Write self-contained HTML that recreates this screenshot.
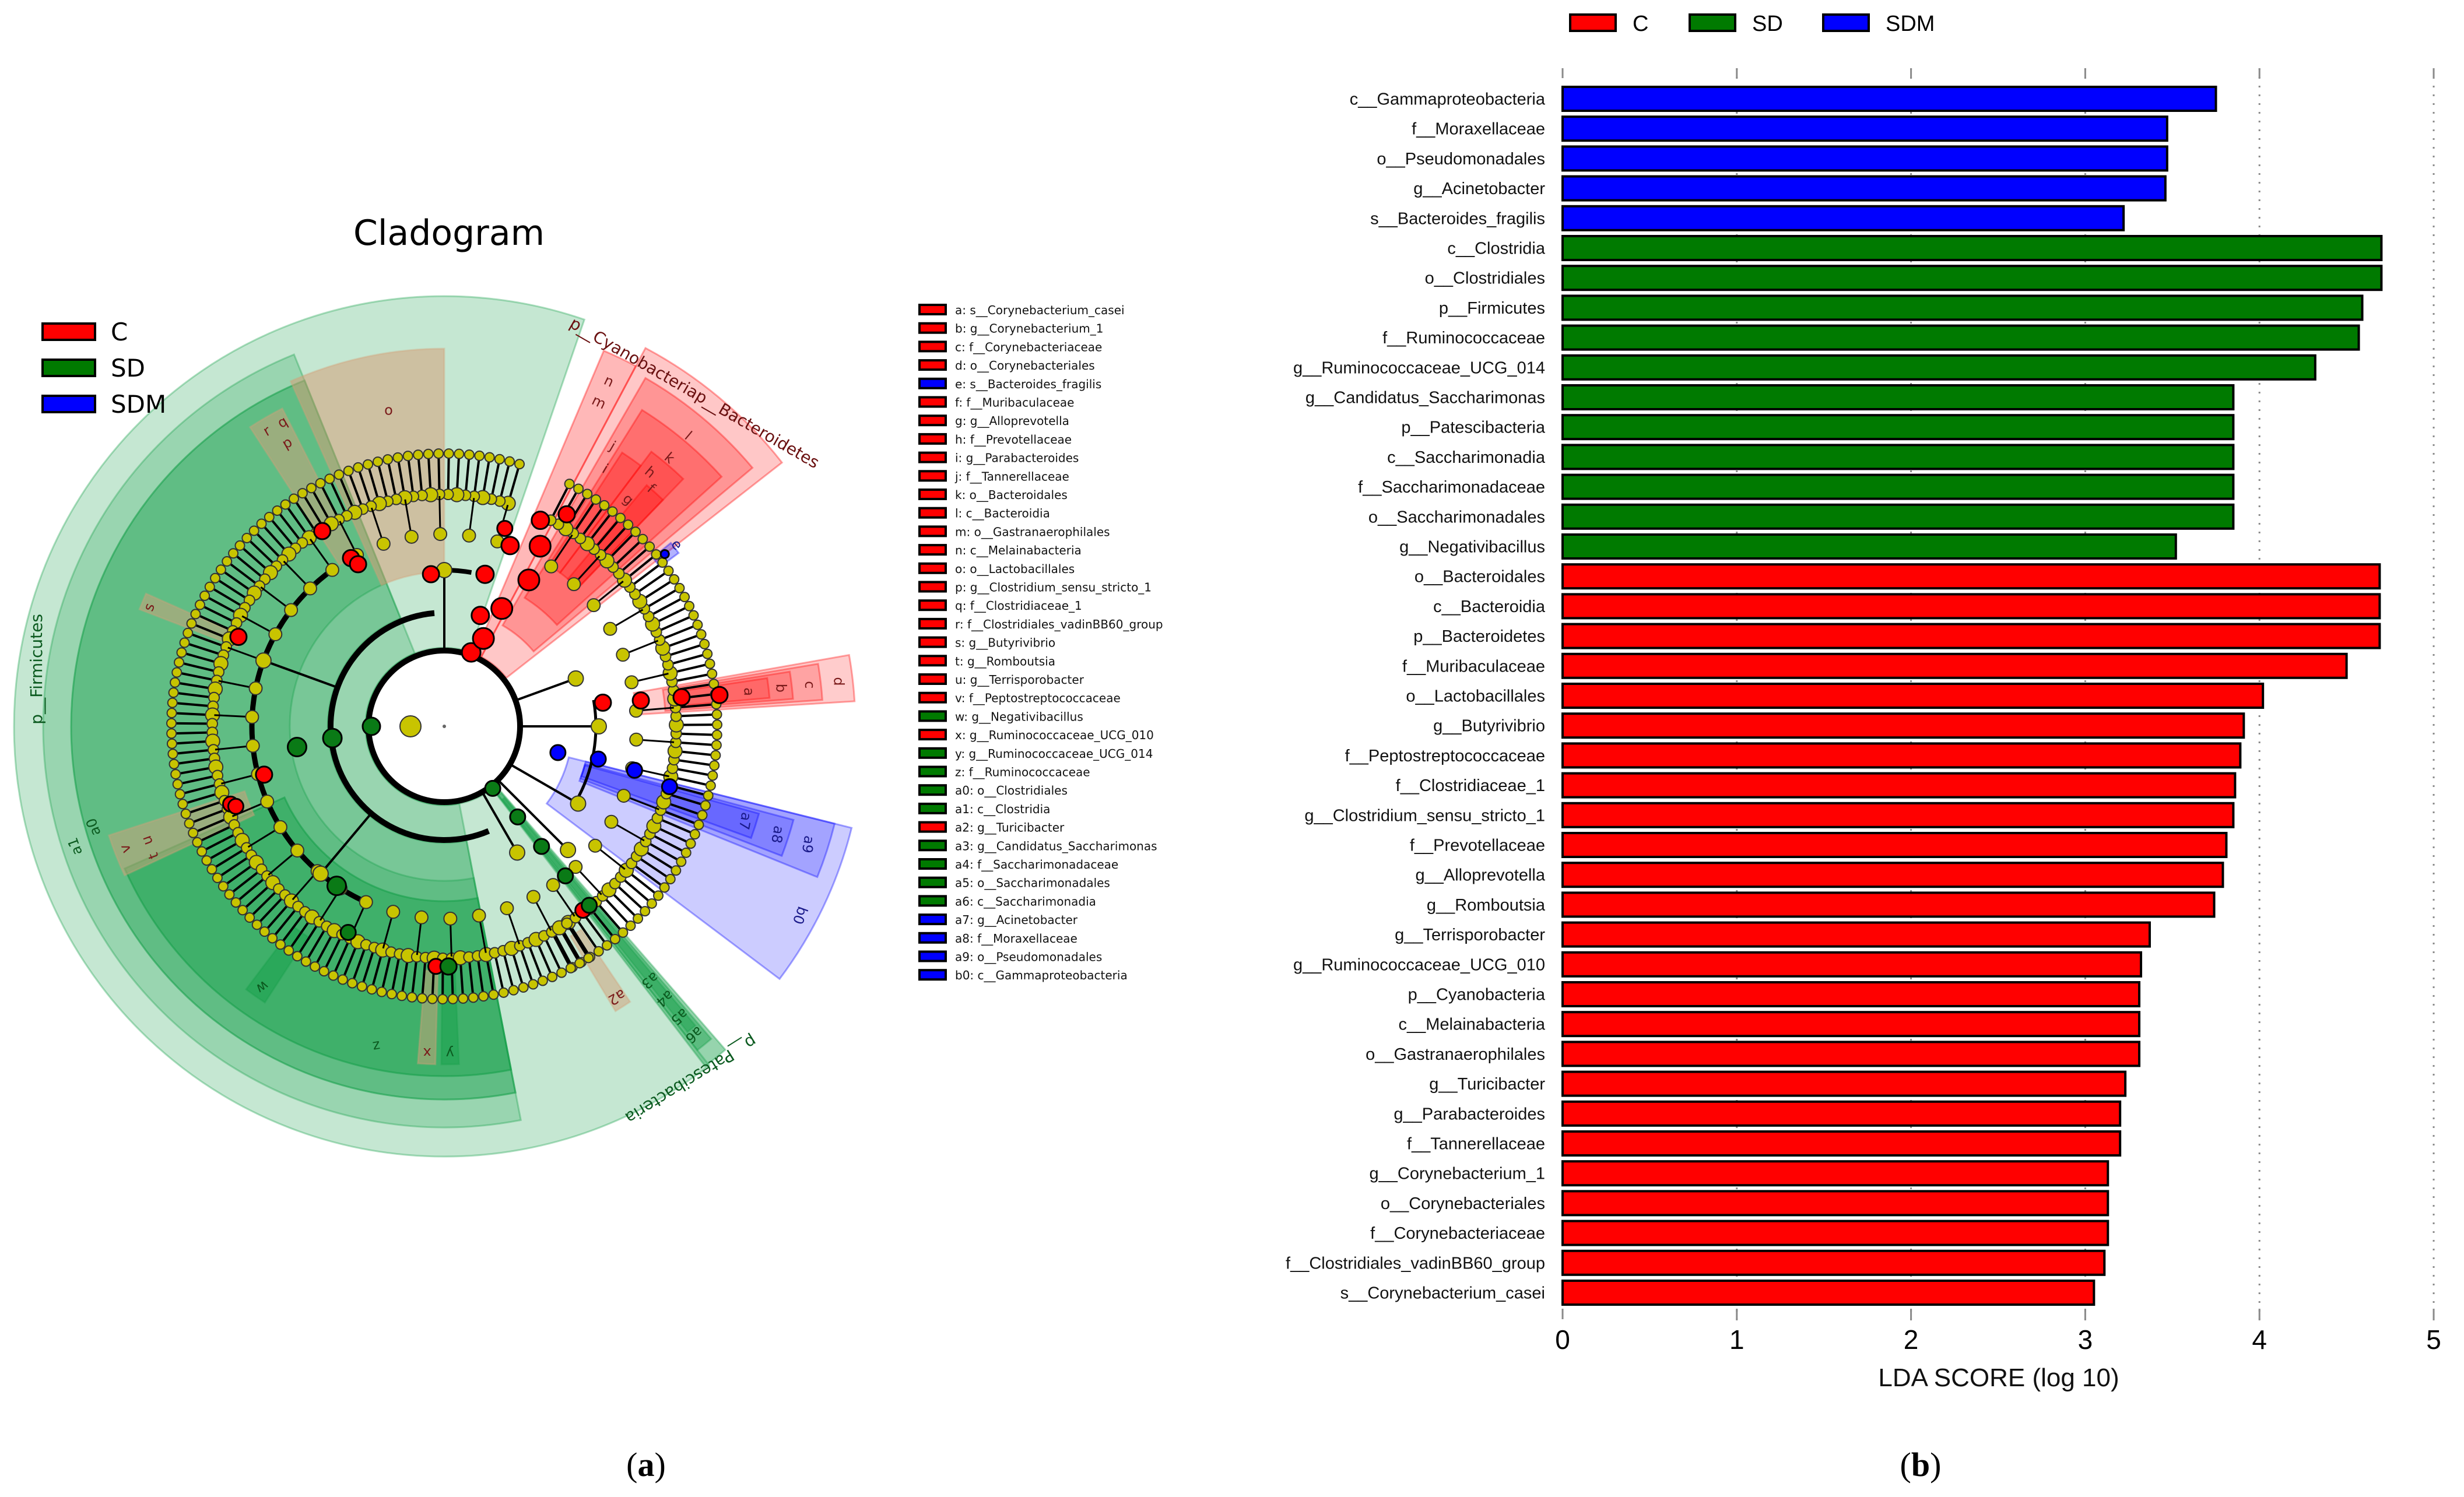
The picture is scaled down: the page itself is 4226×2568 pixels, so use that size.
<!DOCTYPE html>
<html><head><meta charset="utf-8"><style>
html,body{margin:0;padding:0;background:#fff}
svg{display:block}
</style></head><body>
<svg id="fig" xmlns="http://www.w3.org/2000/svg" width="4226" height="2568" viewBox="0 0 4226 2568">
<rect x="0" y="0" width="4226" height="2568" fill="#fff"/>
<g id="clado"></g>
<g id="bars"></g>
<text x="1108" y="2532" font-family="Liberation Serif, serif" font-size="58" text-anchor="middle">(<tspan font-weight="bold">a</tspan>)</text>
<text x="3294" y="2532" font-family="Liberation Serif, serif" font-size="58" text-anchor="middle">(<tspan font-weight="bold">b</tspan>)</text>
</svg>
<script>
// ---------- Bar chart data ----------
const barLabels = ["c__Gammaproteobacteria","f__Moraxellaceae","o__Pseudomonadales","g__Acinetobacter","s__Bacteroides_fragilis","c__Clostridia","o__Clostridiales","p__Firmicutes","f__Ruminococcaceae","g__Ruminococcaceae_UCG_014","g__Candidatus_Saccharimonas","p__Patescibacteria","c__Saccharimonadia","f__Saccharimonadaceae","o__Saccharimonadales","g__Negativibacillus","o__Bacteroidales","c__Bacteroidia","p__Bacteroidetes","f__Muribaculaceae","o__Lactobacillales","g__Butyrivibrio","f__Peptostreptococcaceae","f__Clostridiaceae_1","g__Clostridium_sensu_stricto_1","f__Prevotellaceae","g__Alloprevotella","g__Romboutsia","g__Terrisporobacter","g__Ruminococcaceae_UCG_010","p__Cyanobacteria","c__Melainabacteria","o__Gastranaerophilales","g__Turicibacter","g__Parabacteroides","f__Tannerellaceae","g__Corynebacterium_1","o__Corynebacteriales","f__Corynebacteriaceae","f__Clostridiales_vadinBB60_group","s__Corynebacterium_casei"];
const barValues = [3.75,3.47,3.47,3.46,3.22,4.70,4.70,4.59,4.57,4.32,3.85,3.85,3.85,3.85,3.85,3.52,4.69,4.69,4.69,4.50,4.02,3.91,3.89,3.86,3.85,3.81,3.79,3.74,3.37,3.32,3.31,3.31,3.31,3.23,3.20,3.20,3.13,3.13,3.13,3.11,3.05];
const barGroups = ["SDM","SDM","SDM","SDM","SDM","SD","SD","SD","SD","SD","SD","SD","SD","SD","SD","SD","C","C","C","C","C","C","C","C","C","C","C","C","C","C","C","C","C","C","C","C","C","C","C","C","C"];
const xTicks = [0,1,2,3,4,5];
const groupNames = ["C","SD","SDM"];
const groupColors = {C:"#ff0000",SD:"#007a00",SDM:"#0000ff"};

// ---------- Cladogram data ----------
const cladoLegend = ["C","SD","SDM"];
const featureKeys = ["a","b","c","d","e","f","g","h","i","j","k","l","m","n","o","p","q","r","s","t","u","v","w","x","y","z","a0","a1","a2","a3","a4","a5","a6","a7","a8","a9","b0"];
const featureNames = ["s__Corynebacterium_casei","g__Corynebacterium_1","f__Corynebacteriaceae","o__Corynebacteriales","s__Bacteroides_fragilis","f__Muribaculaceae","g__Alloprevotella","f__Prevotellaceae","g__Parabacteroides","f__Tannerellaceae","o__Bacteroidales","c__Bacteroidia","o__Gastranaerophilales","c__Melainabacteria","o__Lactobacillales","g__Clostridium_sensu_stricto_1","f__Clostridiaceae_1","f__Clostridiales_vadinBB60_group","g__Butyrivibrio","g__Romboutsia","g__Terrisporobacter","f__Peptostreptococcaceae","g__Negativibacillus","g__Ruminococcaceae_UCG_010","g__Ruminococcaceae_UCG_014","f__Ruminococcaceae","o__Clostridiales","c__Clostridia","g__Turicibacter","g__Candidatus_Saccharimonas","f__Saccharimonadaceae","o__Saccharimonadales","c__Saccharimonadia","g__Acinetobacter","f__Moraxellaceae","o__Pseudomonadales","c__Gammaproteobacteria"];
const featureGroups = ["C","C","C","C","SDM","C","C","C","C","C","C","C","C","C","C","C","C","C","C","C","C","C","SD","C","SD","SD","SD","SD","C","SD","SD","SD","SD","SDM","SDM","SDM","SDM"];
// sectors: [startAngle, endAngle, innerR, outerR, group, opacity]
const sectors = [
 [71,308,135,738,"SD",0.25],[112,281,135,688,"SD",0.25],[112,281,200,640,"SD",0.25],[112,281,265,640,"SD",0.25],[204,281,300,600,"SD",0.3],[204,281,300,600,"SD",0.2],
 [90,114,265,648,"O",0.55],
 [38,62,135,735,"C",0.22],[62,67,135,700,"C",0.28],[40,60,200,690,"C",0.25],[42,58,260,640,"C",0.25],[46,53,330,590,"C",0.25],[53,57,330,560,"C",0.25],[46,50,330,540,"C",0.25],
 [3.5,10,330,705,"C",0.2],[4,9.5,380,650,"C",0.2],[4.5,9,400,600,"C",0.2],[5,8.5,420,560,"C",0.2],
 [36.5,39,460,500,"SDM",0.3],
 [-37,-14,220,720,"SDM",0.2],[-22,-14,250,690,"SDM",0.2],[-21,-15,250,620,"SDM",0.2],[-20,-15.5,250,560,"SDM",0.2],
 [-52.5,-49,140,735,"SD",0.45],[-52,-49.5,150,705,"SD",0.45],[-51.5,-50,160,670,"SD",0.45],
 [156,159,380,560,"O",0.5],[198,205,360,605,"O",0.5],[117,123,330,612,"O",0.5],[265.5,268.5,420,580,"O",0.5],[269.5,272.5,420,580,"SD",0.5],[233,237,430,565,"SD",0.5],[-59,-56,420,570,"O",0.5]
];
const leafRanges = [[-62,63],[74,302]];
// biomarker nodes: [angle, radius, group, size]
const cladoNodes = [
 [70,135,"C",16],[66,165,"C",18],[72,200,"C",15],[64,225,"C",18],[75,270,"C",15],[60,290,"C",18],[70,330,"C",15],[62,350,"C",18],[73,355,"C",13],[65,390,"C",15],[60,420,"C",14],
 [8.5,275,"C",14],[7.5,340,"C",14],[7,410,"C",14],[6.5,475,"C",14],
 [122,395,"C",14],[119,330,"C",14],[118,315,"C",14],[95,262,"C",14],[156.5,385,"C",14],[200,390,"C",13],[201,383,"C",13],[195,320,"C",14],[268,412,"C",13],[-53,395,"C",13],
 [180,125,"SD",15],[186,193,"SD",16],[188,255,"SD",16],[236,330,"SD",16],[245,390,"SD",13],[271,412,"SD",14],
 [-52,135,"SD",13],[-51,200,"SD",13],[-51,265,"SD",13],[-51,330,"SD",13],[-51,395,"SD",13],
 [-13,200,"SDM",13],[-12,270,"SDM",13],[-13,335,"SDM",13],[-15,400,"SDM",13],[38,480,"SDM",7]
];
const cladoLabels = [
 ["p__Firmicutes",172,705,"#0b5a1f",-90],["a1",198,665,"#0b5a1f",-110],["a0",196,625,"#0b5a1f",-110],["z",258,560,"#0b5a1f",170],["o",100,550,"#7a1a1a",0],
 ["r",121,590,"#7a1a1a",-30],["q",118,590,"#7a1a1a",-30],["p",119,555,"#7a1a1a",-30],["s",158,545,"#7a1a1a",-70],["v",201,585,"#7a1a1a",-110],["u",201,545,"#7a1a1a",-110],["t",204,545,"#7a1a1a",-110],
 ["w",235,545,"#0b5a1f",145],["x",267,560,"#7a1a1a",180],["y",271,560,"#0b5a1f",180],["a2",-57.5,550,"#7a1a1a",150],["a3",-51,560,"#0b5a1f",140],["a4",-51,600,"#0b5a1f",140],["a5",-51,640,"#0b5a1f",140],["a6",-51,680,"#0b5a1f",140],
 ["n",64.5,655,"#7a1a1a",25],["m",64.5,615,"#7a1a1a",25],["l",50,650,"#7a1a1a",40],["k",50,600,"#7a1a1a",40],["j",59,560,"#7a1a1a",30],["i",58,520,"#7a1a1a",30],["h",51,560,"#7a1a1a",40],["f",49,540,"#7a1a1a",40],["g",51,500,"#7a1a1a",40],["e",38,505,"#1a1a8a",50],
 ["a",6.5,525,"#7a1a1a",90],["b",6.5,580,"#7a1a1a",90],["c",6.5,630,"#7a1a1a",90],["d",6.5,680,"#7a1a1a",90],
 ["a7",-17.5,540,"#1a1a8a",100],["a8",-18,600,"#1a1a8a",100],["a9",-18,655,"#1a1a8a",100],["b0",-28,690,"#1a1a8a",110]
];

const NS="http://www.w3.org/2000/svg";
function mk(parent,tag,attrs){const e=document.createElementNS(NS,tag);for(const k in attrs)e.setAttribute(k,attrs[k]);parent.appendChild(e);return e;}

// ---------- Bar chart ----------
(function(){
 const g=document.getElementById('bars');
 const X0=2680, UNIT=298.8, TOP=147, PITCH=51.2, BH=45;
 const xs=v=>X0+v*UNIT;
 const yb=i=>TOP+i*PITCH;
 const yBottom=yb(barLabels.length-1)+BH;
 xTicks.forEach(t=>{
  if(t>0){
   const l=mk(g,'line',{x1:xs(t),x2:xs(t),y1:117,y2:yBottom+30,stroke:'#8a8a8a','stroke-width':3,'stroke-dasharray':'3,12'});
   
   
  }
  const t1=mk(g,'line',{x1:xs(t),x2:xs(t),y1:117,y2:134,stroke:'#8a8a8a','stroke-width':3});
  
  
  const t2=mk(g,'line',{x1:xs(t),x2:xs(t),y1:2245,y2:2263,stroke:'#8a8a8a','stroke-width':3});
  
  
  const tl=mk(g,'text',{x:xs(t),y:2314,'font-family':'Liberation Sans, sans-serif','font-size':46,'text-anchor':'middle',fill:'#000'});
  tl.textContent=t;
  
  
 });
 barLabels.forEach((lab,i)=>{
  const r=mk(g,'rect',{x:xs(0),y:yb(i)+2,width:xs(barValues[i])-xs(0),height:BH-4,fill:groupColors[barGroups[i]],stroke:'#000','stroke-width':4});
  
  
  const t=mk(g,'text',{x:2650,y:yb(i)+BH/2+10,'font-family':'Liberation Sans, sans-serif','font-size':29,'text-anchor':'end',fill:'#111'});
  t.textContent=lab;
  
  
 });
 const ax=mk(g,'text',{x:3428,y:2378,'font-family':'Liberation Sans, sans-serif','font-size':44,'text-anchor':'middle',fill:'#111'});
 ax.textContent='LDA SCORE (log 10)';
 
 
 const lx=[2693,2898,3127];
 groupNames.forEach((n,i)=>{
  const b=mk(g,'rect',{x:lx[i],y:25,width:78,height:28,fill:groupColors[n],stroke:'#000','stroke-width':4});
  
  
  const t=mk(g,'text',{x:lx[i]+107,y:53,'font-family':'Liberation Sans, sans-serif','font-size':38,fill:'#000'});
  t.textContent=n;
  
  
 });
})();

// ---------- Cladogram ----------
(function(){
 const g=document.getElementById('clado');
 const cx=762, cy=1246;
 const rad=a=>a*Math.PI/180;
 const P=(a,r)=>[cx+r*Math.cos(rad(a)), cy-r*Math.sin(rad(a))];
 const fillOf={SD:'#16a04a',C:'#ff0000',SDM:'#0000ff',O:'#d4a078'};
 const nodeFill={C:'#ff0000',SD:'#0a7a16',SDM:'#0000ff'};
 sectors.forEach((s,i)=>{
  const [a1,a2,r0,r1,grp,op]=s;
  const large=(a2-a1)>180?1:0;
  const p1=P(a1,r1),p2=P(a2,r1),p3=P(a2,r0),p4=P(a1,r0);
  const d=`M${p1} A${r1} ${r1} 0 ${large} 0 ${p2} L${p3} A${r0} ${r0} 0 ${large} 1 ${p4} Z`;
  const e=mk(g,'path',{d:d,fill:fillOf[grp],'fill-opacity':op,stroke:fillOf[grp],'stroke-opacity':0.35,'stroke-width':3});
  
  
 });
 function arc(a1,a2,r,w,name){
  const p1=P(a1,r),p2=P(a2,r);const large=(a2-a1)>180?1:0;
  const e=mk(g,'path',{d:`M${p1} A${r} ${r} 0 ${large} 0 ${p2}`,fill:'none',stroke:'#000','stroke-width':w});
  
  
 }
 const circ=mk(g,'circle',{cx:cx,cy:cy,r:130,fill:'#fff',stroke:'#000','stroke-width':10});
 
 
 arc(95,293,195,10,'clostridia-arc');
 arc(125,245,330,9,'clostridiales-arc');
 arc(80,95,268,8,'bacilli-arc');
 arc(-30,10,260,5,'proteobacteria-arc');
 let li=0;
 leafRanges.forEach(rg=>{
  for(let a=rg[0];a<=rg[1];a+=2.15){
   li++;
   const [x1,y1]=P(a,395),[x2,y2]=P(a,468);
   const l=mk(g,'line',{x1:x1,y1:y1,x2:x2,y2:y2,stroke:'#000','stroke-width':4});
   
   
   const d=mk(g,'circle',{cx:x2,cy:y2,r:8,fill:'#c8c400',stroke:'#333','stroke-width':2});
   
   
   const [x3,y3]=P(a,398);
   const d2=mk(g,'circle',{cx:x3,cy:y3,r:(li%3===0?12:9),fill:'#c8c400',stroke:'#333','stroke-width':2});
   
   
   if(li%4===0){
    const [x4,y4]=P(a,330),[x5,y5]=P(a,395);
    const l2=mk(g,'line',{x1:x4,y1:y4,x2:x5,y2:y5,stroke:'#000','stroke-width':3});
    
    
    const d3=mk(g,'circle',{cx:x4,cy:y4,r:11,fill:'#c8c400',stroke:'#333','stroke-width':2});
    
    
   }
  }
 });
 [[0,130,265],[20,130,240],[-30,130,265],[-45,130,300],[90,130,268],[160,195,330],[230,195,330],[-60,130,250]].forEach((b,i)=>{
  const [x1,y1]=P(b[0],b[1]),[x2,y2]=P(b[0],b[2]);
  const l=mk(g,'line',{x1:x1,y1:y1,x2:x2,y2:y2,stroke:'#000','stroke-width':4});
  
  
  const d=mk(g,'circle',{cx:x2,cy:y2,r:13,fill:'#c8c400',stroke:'#333','stroke-width':2});
  
  
 });
 const big=mk(g,'circle',{cx:cx-58,cy:cy,r:18,fill:'#c8c400',stroke:'#333','stroke-width':2});
 
 
 const ctr=mk(g,'circle',{cx:cx,cy:cy,r:3,fill:'#666'});
 
 
 cladoNodes.forEach((n,i)=>{
  const [x,y]=P(n[0],n[1]);
  const e=mk(g,'circle',{cx:x,cy:y,r:n[3],fill:nodeFill[n[2]],stroke:'#000','stroke-width':3});
  
  
 });
 cladoLabels.forEach(lb=>{
  const [x,y]=P(lb[1],lb[2]);
  const t=mk(g,'text',{x:x,y:y,'font-family':'DejaVu Sans, sans-serif','font-size':lb[0].length>3?28:24,fill:lb[3],'text-anchor':'middle','dominant-baseline':'middle',transform:`rotate(${lb[4]} ${x} ${y})`});
  t.textContent=lb[0];
  
  
 });
 const tc=mk(g,'text',{x:0,y:0,'font-family':'DejaVu Sans, sans-serif','font-size':28,fill:'#6a1010',transform:'translate(975,560) rotate(30)'});
 tc.textContent='p__Cyanobacteriap__Bacteroidetes';
 
 
 const tp=mk(g,'text',{x:0,y:0,'font-family':'DejaVu Sans, sans-serif','font-size':28,fill:'#0b5a1f',transform:'translate(1290,1775) rotate(148)'});
 tp.textContent='p__Patescibacteria';
 
 
 const title=mk(g,'text',{x:770,y:420,'font-family':'DejaVu Sans, sans-serif','font-size':60,'text-anchor':'middle',fill:'#000'});
 title.textContent='Cladogram';
 
 
 cladoLegend.forEach((n,i)=>{
  const y=569+i*62;
  const b=mk(g,'rect',{x:73,y:y-14,width:90,height:28,fill:nodeFill[n]==='#0a7a16'?'#007a00':nodeFill[n],stroke:'#000','stroke-width':4});
  
  
  const t=mk(g,'text',{x:190,y:y+15,'font-family':'DejaVu Sans, sans-serif','font-size':42,fill:'#000'});
  t.textContent=n;
  
  
 });
 featureKeys.forEach((k,i)=>{
  const y=531+i*31.7;
  const b=mk(g,'rect',{x:1577,y:y-8,width:45,height:16,fill:nodeFill[featureGroups[i]]==='#0a7a16'?'#007a00':nodeFill[featureGroups[i]],stroke:'#000','stroke-width':4});
  
  
  const t=mk(g,'text',{x:1638,y:y+8,'font-family':'DejaVu Sans, sans-serif','font-size':20,fill:'#111'});
  t.textContent=k+': '+featureNames[i];
  
  
 });
})();
</script>
</body></html>
